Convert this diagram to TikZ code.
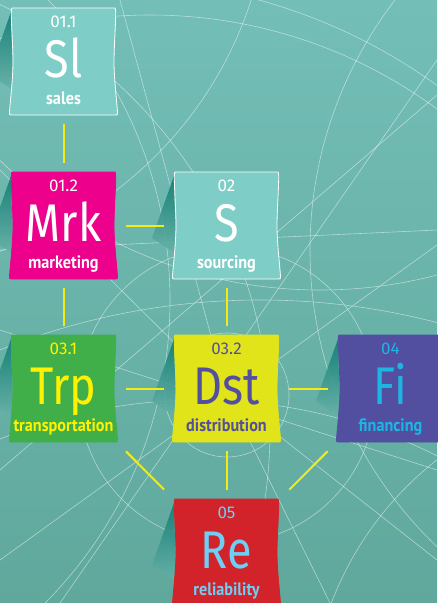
\documentclass[tikz,border=0pt]{standalone}
\usepackage{fontspec}
\newfontfamily\symfont[FakeStretch=0.85]{Fira Sans}
\newfontfamily\numfont{Fira Sans}
\newfontfamily\labfont[FakeStretch=0.9]{PT Sans}
\definecolor{bgtop}{HTML}{73BEB7}
\definecolor{bgbot}{HTML}{60A89C}
\definecolor{shadowc}{HTML}{0F7C72}
\definecolor{cyanbox}{HTML}{7ECDC7}
\definecolor{magbox}{HTML}{EC008C}
\definecolor{greenbox}{HTML}{40AE49}
\definecolor{yelbox}{HTML}{E2E41A}
\definecolor{purbox}{HTML}{524FA1}
\definecolor{redbox}{HTML}{D2232A}
\definecolor{yeltext}{HTML}{FFF200}
\definecolor{cyantext}{HTML}{1DB6E3}
\definecolor{bluetext}{HTML}{6DCFF6}
\definecolor{connc}{HTML}{F5EB14}
\tikzset{
  boxnode/.style={rectangle, minimum width=107pt, minimum height=107pt, inner sep=0pt},
  numtext/.style={font=\numfont\fontsize{17}{17}\selectfont, anchor=base, inner sep=0pt},
  symtext/.style={font=\symfont\fontsize{53}{53}\selectfont, anchor=base, inner sep=0pt},
  labtext/.style={font=\labfont\bfseries\fontsize{18}{18}\selectfont, anchor=base, inner sep=0pt},
  conn/.style={draw=connc, line width=2pt, shorten >=9pt, shorten <=9pt},
  diag/.style={draw=connc, line width=2pt, shorten >=13pt, shorten <=13pt},
  grid/.style={draw=white, draw opacity=0.5, line width=0.6pt}
}
% #1 name, #2 x0, #3 y0, #4 fill, #5 border, #6 text colour, #7 number, #8 symbol, #9 label
\newcommand\elbox[9]{%
  \shade[top color=shadowc, bottom color=bgtop!45!bgbot, fill opacity=0.9]
    (#2+1,#3+4) -- (#2-21,#3+66) -- (#2+3,#3+82) -- cycle;
  \node[boxnode] (#1) at (#2+53.5,#3+53.5) {};
  \filldraw[fill=#4, draw=#5, line width=0.8pt]
    (#2+2,#3) -- (#2+105,#3)
    .. controls (#2+107,#3) and (#2+104,#3+35) .. (#2+104,#3+53.5)
    .. controls (#2+104,#3+72) and (#2+107.5,#3+100) .. (#2+107.5,#3+105)
    .. controls (#2+107.5,#3+107) .. (#2+105,#3+107)
    -- (#2+2,#3+107)
    .. controls (#2-0.5,#3+107) .. (#2-0.5,#3+105)
    .. controls (#2-0.5,#3+100) and (#2+3,#3+72) .. (#2+3,#3+53.5)
    .. controls (#2+3,#3+35) and (#2,#3) .. (#2+2,#3) -- cycle;
  \node[numtext, text=#6] (#1num) at (#2+53.5,#3+19) {#7};
  \node[symtext, text=#6] (#1sym) at (#2+53.5,#3+69) {#8};
  \node[labtext, text=#6] (#1lab) at (#2+53.5,#3+96) {#9};
}
\begin{document}
\begin{tikzpicture}[x=1pt,y=-1pt]
\useasboundingbox (0,0) rectangle (437,603);
\shade[top color=bgtop, bottom color=bgbot] (0,0) rectangle (437,603);
\begin{scope}
  \clip (0,0) rectangle (437,603);
  \draw[grid] (227,395) circle (62);
  \draw[grid] (227,395) circle (148);
  \draw[grid] (150,500) circle (485);
  \draw[grid] (110,540) circle (560);
  \draw[grid] (-200,430) circle (470);
  \draw[grid] (-260,300) circle (430);
  \draw[grid] (720,250) circle (410);
  \draw[grid] (640,720) circle (330);
  \draw[grid] (-120,-120) circle (390);
  \draw[grid] (320,-170) circle (460);
  \draw[grid] (200,930) circle (530);
  \draw[grid] (260,1000) circle (700);
  \draw[grid] (0,560) -- (437,245);
  \draw[grid] (0,470) -- (437,95);
  \draw[grid] (60,603) -- (437,60);
  \draw[grid] (0,330) -- (437,470);
  \draw[grid] (0,250) -- (437,230);
  \draw[grid] (120,0) -- (227,395) -- (330,603);
  \draw[grid] (0,170) -- (227,395) -- (437,560);
\end{scope}
\elbox{sl}{10}{8}{cyanbox}{white}{white}{01.1}{Sl}{sales}
\elbox{mrk}{10}{172}{magbox}{magbox}{white}{01.2}{Mrk}{marketing}
\elbox{s}{173}{172}{cyanbox}{white}{white}{02}{S}{sourcing}
\elbox{trp}{10}{335}{greenbox}{greenbox}{yeltext}{03.1}{Trp}{transportation}
\elbox{dst}{173}{335}{yelbox}{yelbox}{purbox}{03.2}{Dst}{distribution}
\elbox{fi}{337}{335}{purbox}{purbox}{cyantext}{04}{Fi}{financing}
\elbox{re}{173}{499}{redbox}{redbox}{bluetext}{05}{Re}{reliability}
\draw[conn] (sl) -- (mrk);
\draw[conn] (mrk) -- (s);
\draw[conn] (mrk) -- (trp);
\draw[conn] (s) -- (dst);
\draw[conn] (trp) -- (dst);
\draw[conn] (dst) -- (fi);
\draw[conn] (dst) -- (re);
\draw[diag] (trp) -- (re);
\draw[diag] (fi) -- (re);
\end{tikzpicture}
\end{document}
